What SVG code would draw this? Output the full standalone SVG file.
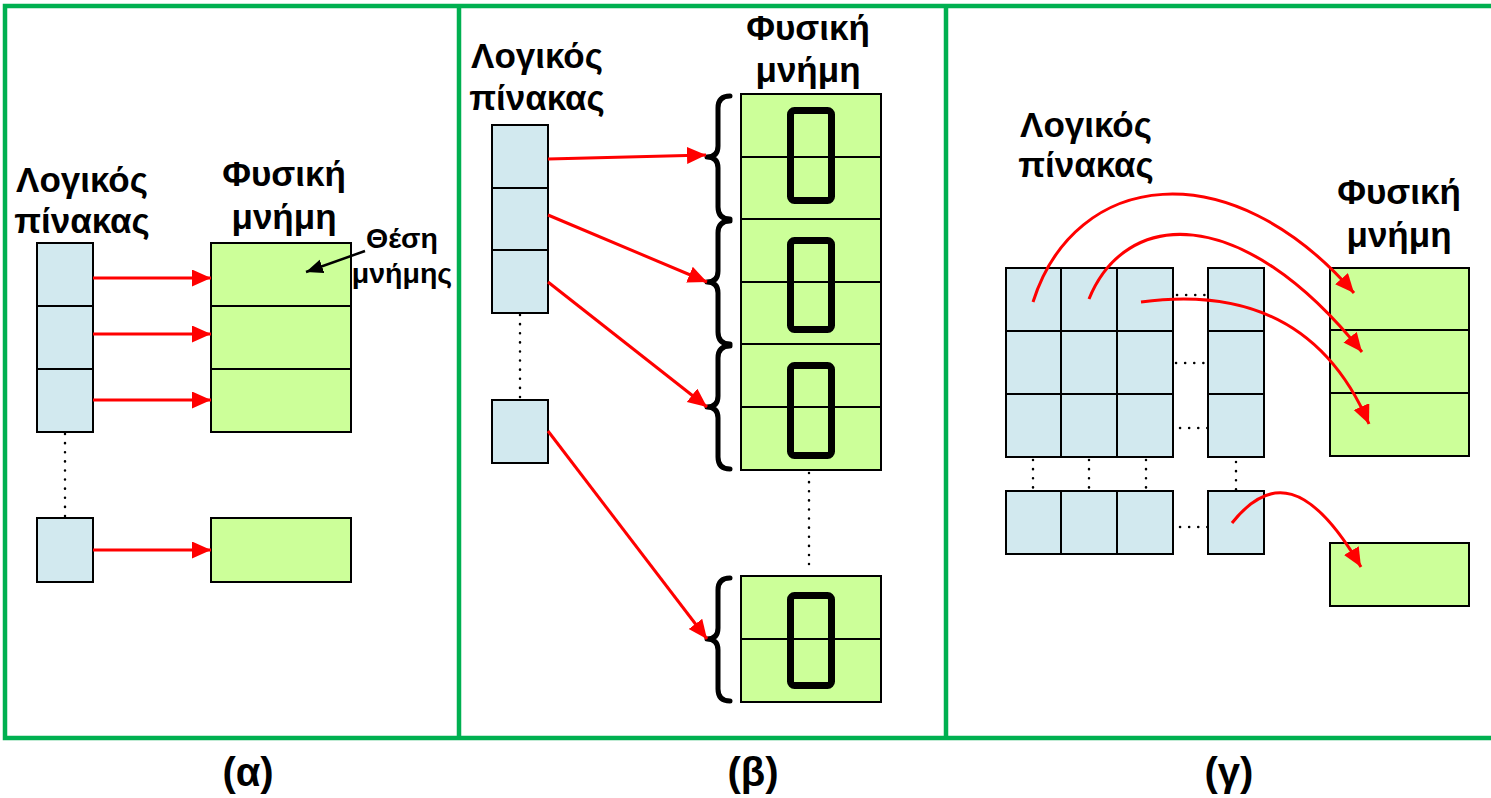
<svg xmlns="http://www.w3.org/2000/svg" width="1491" height="798" viewBox="0 0 1491 798">
<style>
.lt{fill:#D2E9EF;stroke:#000;stroke-width:2}
.pm{fill:#CCFF99;stroke:#000;stroke-width:2}
.dv{stroke:#000;stroke-width:2;fill:none}
.lbl{font-family:"Liberation Sans",Arial,sans-serif;font-weight:bold;font-size:35px;fill:#000;text-anchor:middle}
.sm{font-size:28.5px}
.cap{font-size:40px}
.frame{stroke:#00B050;stroke-width:4.5;fill:none}
.dot{stroke:#000;stroke-width:2.5;stroke-linecap:round;stroke-dasharray:0.1 9;fill:none}
.arr{stroke:#FF0000;stroke-width:3;fill:none;marker-end:url(#rh)}
.pg{fill:none;stroke:#000;stroke-width:7}
.br{fill:none;stroke:#000;stroke-width:5;stroke-linecap:round;stroke-linejoin:round}
</style>
<defs>
<marker id="rh" markerUnits="userSpaceOnUse" markerWidth="20" markerHeight="18" refX="19" refY="8.5" orient="auto" viewBox="0 0 20 18">
<path d="M0,0 L19,8.5 L0,17 z" fill="#FF0000"/>
</marker>
<marker id="bh" markerUnits="userSpaceOnUse" markerWidth="18" markerHeight="16" refX="17" refY="7" orient="auto" viewBox="0 0 18 16">
<path d="M0,0 L17,7 L0,14 z" fill="#000"/>
</marker>
</defs>
<rect width="1491" height="798" fill="#fff"/>
<g id="frame">
<path class="frame" d="M1496,6 H5 V738 H1496 M459,6 V738 M946,6 V738"/>
</g>
<g id="panel-a">
<g id="a-logical">
<text class="lbl" x="82" y="192">Λογικός</text>
<text class="lbl" x="82" y="233">πίνακας</text>
<rect class="lt" x="37" y="243" width="56" height="189"/>
<path class="dv" d="M37,306 H93 M37,369 H93"/>
<rect class="lt" x="37" y="518" width="56" height="64"/>
<path class="dot" d="M65,434 V516"/>
</g>
<g id="a-physical">
<text class="lbl" x="284" y="186">Φυσική</text>
<text class="lbl" x="284" y="229">μνήμη</text>
<rect class="pm" x="211" y="243" width="140" height="189"/>
<path class="dv" d="M211,306 H351 M211,369 H351"/>
<rect class="pm" x="211" y="518" width="140" height="64"/>
</g>
<g id="a-location-label">
<text class="lbl sm" x="402" y="248">Θέση</text>
<text class="lbl sm" x="402" y="283">μνήμης</text>
</g>
</g>
<g id="panel-b">
<g id="b-logical">
<text class="lbl" x="537" y="68">Λογικός</text>
<text class="lbl" x="537" y="110">πίνακας</text>
<rect class="lt" x="492" y="125" width="56" height="188"/>
<path class="dv" d="M492,188 H548 M492,250 H548"/>
<rect class="lt" x="492" y="400" width="56" height="63"/>
<path class="dot" d="M520,315 V398"/>
</g>
<g id="b-physical">
<text class="lbl" x="808" y="40">Φυσική</text>
<text class="lbl" x="808" y="82">μνήμη</text>
<rect class="pm" x="741" y="94" width="140" height="376"/>
<path class="dv" d="M741,157 H881 M741,219 H881 M741,282 H881 M741,344 H881 M741,407 H881"/>
<rect class="pm" x="741" y="576" width="140" height="126"/>
<path class="dv" d="M741,639 H881"/>
<rect class="pg" x="790.5" y="110.5" width="41" height="90" rx="4"/>
<rect class="pg" x="790.5" y="240.5" width="41" height="89" rx="4"/>
<rect class="pg" x="790.5" y="365.5" width="41" height="90" rx="4"/>
<rect class="pg" x="790.5" y="595.5" width="41" height="90" rx="4"/>
<path class="dot" d="M809,473 V573"/>
<path class="br" d="M730,96 Q718,96 718,108 L718,146 Q718,157 707,157 Q718,157 718,168 L718,207 Q718,219 730,219"/>
<path class="br" d="M730,221 Q718,221 718,233 L718,271 Q718,282 707,282 Q718,282 718,293 L718,332 Q718,344 730,344"/>
<path class="br" d="M730,346 Q718,346 718,358 L718,396 Q718,407 707,407 Q718,407 718,418 L718,457 Q718,469 730,469"/>
<path class="br" d="M730,578 Q718,578 718,590 L718,628 Q718,639 707,639 Q718,639 718,650 L718,689 Q718,701 730,701"/>
</g>
</g>
<g id="panel-c">
<g id="c-logical">
<text class="lbl" x="1086" y="137">Λογικός</text>
<text class="lbl" x="1086" y="177">πίνακας</text>
<rect class="lt" x="1006" y="268" width="167" height="189"/>
<path class="dv" d="M1006,331 H1173 M1006,394 H1173 M1061,268 V457 M1117,268 V457"/>
<rect class="lt" x="1208" y="268" width="56" height="189"/>
<path class="dv" d="M1208,331 H1264 M1208,394 H1264"/>
<rect class="lt" x="1006" y="491" width="167" height="63"/>
<path class="dv" d="M1061,491 V554 M1117,491 V554"/>
<rect class="lt" x="1208" y="491" width="56" height="63"/>
<path class="dot" d="M1177,295 H1206 M1176,363 H1205 M1180,428 H1209 M1180,527 H1209 M1033,460 V488 M1089,460 V488 M1146,460 V488 M1236,462 V490"/>
</g>
<g id="c-physical">
<text class="lbl" x="1399" y="204">Φυσική</text>
<text class="lbl" x="1399" y="247">μνήμη</text>
<rect class="pm" x="1330" y="268" width="139" height="188"/>
<path class="dv" d="M1330,330 H1469 M1330,393 H1469"/>
<rect class="pm" x="1330" y="543" width="139" height="63"/>
</g>
</g>
<g id="connectors">
<line class="arr" x1="93" y1="278" x2="211" y2="278"/>
<line class="arr" x1="93" y1="334" x2="211" y2="334"/>
<line class="arr" x1="93" y1="400" x2="211" y2="400"/>
<line class="arr" x1="93" y1="550" x2="211" y2="550"/>
<line x1="365" y1="251" x2="306" y2="272" stroke="#000" stroke-width="2.5" marker-end="url(#bh)"/>
<line class="arr" x1="548" y1="159" x2="706" y2="155"/>
<line class="arr" x1="548" y1="215" x2="707" y2="282"/>
<line class="arr" x1="548" y1="282" x2="707" y2="407"/>
<line class="arr" x1="548" y1="431" x2="707" y2="639"/>
<path class="arr" d="M1033,302 C1075,170 1230,150 1354,293"/>
<path class="arr" d="M1089,299 C1125,210 1240,200 1362,352"/>
<path class="arr" d="M1141,302 C1230,290 1320,310 1369,424"/>
<path class="arr" d="M1232,523 C1270,475 1310,480 1361,567"/>
</g>
<g id="captions">
<text class="lbl cap" x="248" y="786">(α)</text>
<text class="lbl cap" x="753" y="786">(β)</text>
<text class="lbl cap" x="1229" y="786">(γ)</text>
</g>
</svg>
